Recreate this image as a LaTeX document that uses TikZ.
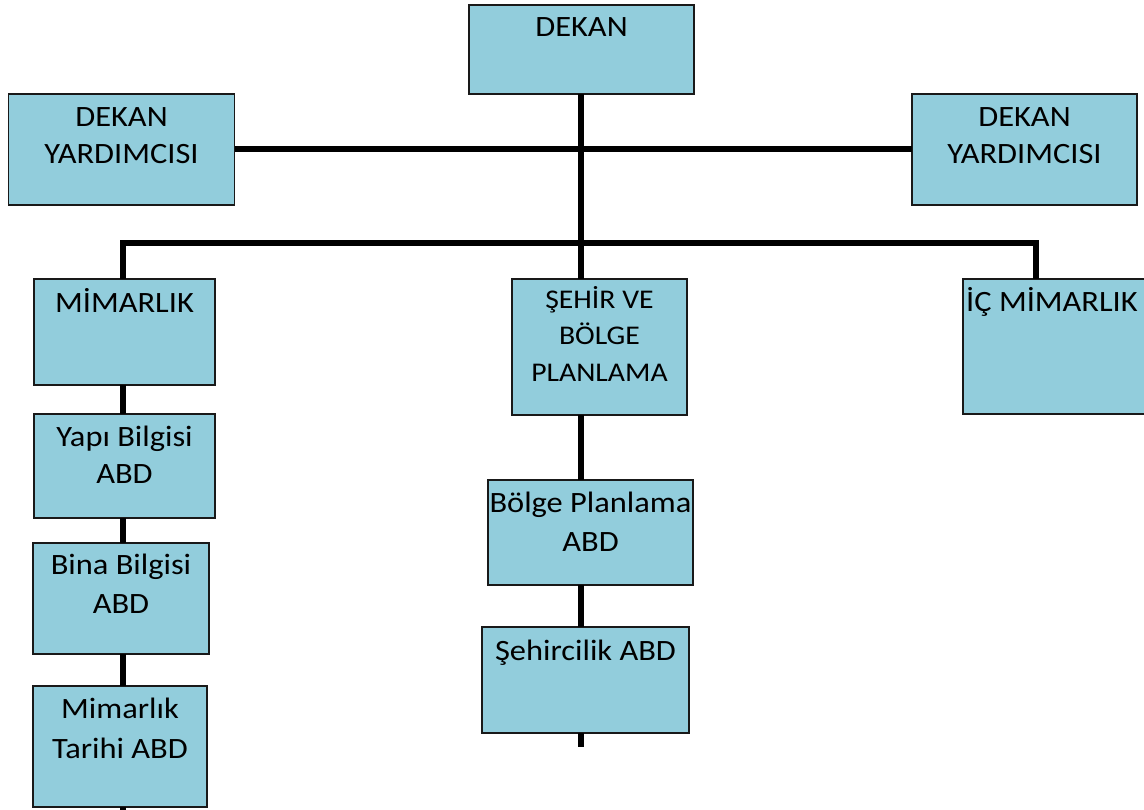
\documentclass[tikz,border=0pt]{standalone}
\usepackage{fontspec}
\setmainfont[FakeStretch=1.1]{Carlito}
\definecolor{boxfill}{RGB}{146,205,220}
\begin{document}
\begin{tikzpicture}[x=1pt,y=-1pt,
  orgbox/.style={draw=black!90, line width=1.4pt, fill=boxfill, inner sep=0pt, outer sep=0pt},
  txt/.style={anchor=north, inner sep=0pt, align=center, font=\fontsize{29.5}{#1}\selectfont},
  conn/.style={line width=6pt, draw=black, line join=miter, line cap=butt}]
\clip (0,0) rectangle (1144,810);
% boxes (given by corners)
\node[orgbox, minimum width=225, minimum height=89]  (dekan)  at (581.5,49.5) {};
\node[orgbox, minimum width=226, minimum height=111] (dyl)    at (121.5,149.5) {};
\node[orgbox, minimum width=225, minimum height=111] (dyr)    at (1024.5,149.5) {};
\node[orgbox, minimum width=181, minimum height=106] (mim)    at (124.5,332) {};
\node[orgbox, minimum width=175, minimum height=136] (seh)    at (599.5,347) {};
\node[orgbox, minimum width=197, minimum height=135] (ic)     at (1061.5,346.5) {};
\node[orgbox, minimum width=181, minimum height=104] (yapi)   at (124.5,466) {};
\node[orgbox, minimum width=176, minimum height=111] (bina)   at (121,598.5) {};
\node[orgbox, minimum width=174, minimum height=121] (tarih)  at (120,746.5) {};
\node[orgbox, minimum width=205, minimum height=105] (bolge)  at (590.5,532.5) {};
\node[orgbox, minimum width=207, minimum height=106] (sehirc) at (585.5,680) {};
% texts
\node[txt=37]   (tdekan)  at (581.5,10.1)  {\strut DEKAN};
\node[txt=37]   (tdyl)    at (121.5,100.1) {\strut DEKAN\\\strut YARDIMCISI};
\node[txt=37]   (tdyr)    at (1024.5,100.1) {\strut DEKAN\\\strut YARDIMCISI};
\node[txt=37]   (tmim)    at (124.5,286.4) {\strut MİMARLIK};
\node[txt=36.3, font=\fontsize{27}{36.3}\selectfont] (tseh) at (599.5,282.9) {\strut ŞEHİR VE\\\strut BÖLGE\\\strut PLANLAMA};
\node[txt=37, anchor=north west] (tic) at (966,285.1) {\strut İÇ MİMARLIK};
\node[txt=37.3] (tyapi)   at (124.5,419.9) {\strut Yapı Bilgisi\\\strut ABD};
\node[txt=39]   (tbina)   at (121,547)     {\strut Bina Bilgisi\\\strut ABD};
\node[txt=40]   (ttarih)  at (120,690)     {\strut Mimarlık\\\strut Tarihi ABD};
\node[txt=38.7] (tbolge)  at (590.5,485.2) {\strut Bölge Planlama\\\strut ABD};
\node[txt=37]   (tsehirc) at (585.5,634.1) {\strut Şehircilik ABD};
% connector coordinates
\coordinate (bl) at (123,243);
\coordinate (bc) at (581,243);
\coordinate (br) at (1035.5,243);
\coordinate (endL) at (123,812);
\coordinate (endC) at (581,747);
% connectors
\draw[conn] (dyl.east) -- (dyr.west);
\draw[conn] (bc |- dekan.south) -- (bc |- seh.north);
\draw[conn] (bl |- mim.north) -- (bl) -- (br) -- (br |- ic.north);
\draw[conn] (bl |- mim.south) -- (bl |- yapi.north);
\draw[conn] (bl |- yapi.south) -- (bl |- bina.north);
\draw[conn] (bl |- bina.south) -- (bl |- tarih.north);
\draw[conn] (bl |- tarih.south) -- (endL);
\draw[conn] (bc |- seh.south) -- (bc |- bolge.north);
\draw[conn] (bc |- bolge.south) -- (bc |- sehirc.north);
\draw[conn] (bc |- sehirc.south) -- (endC);
\end{tikzpicture}
\end{document}
